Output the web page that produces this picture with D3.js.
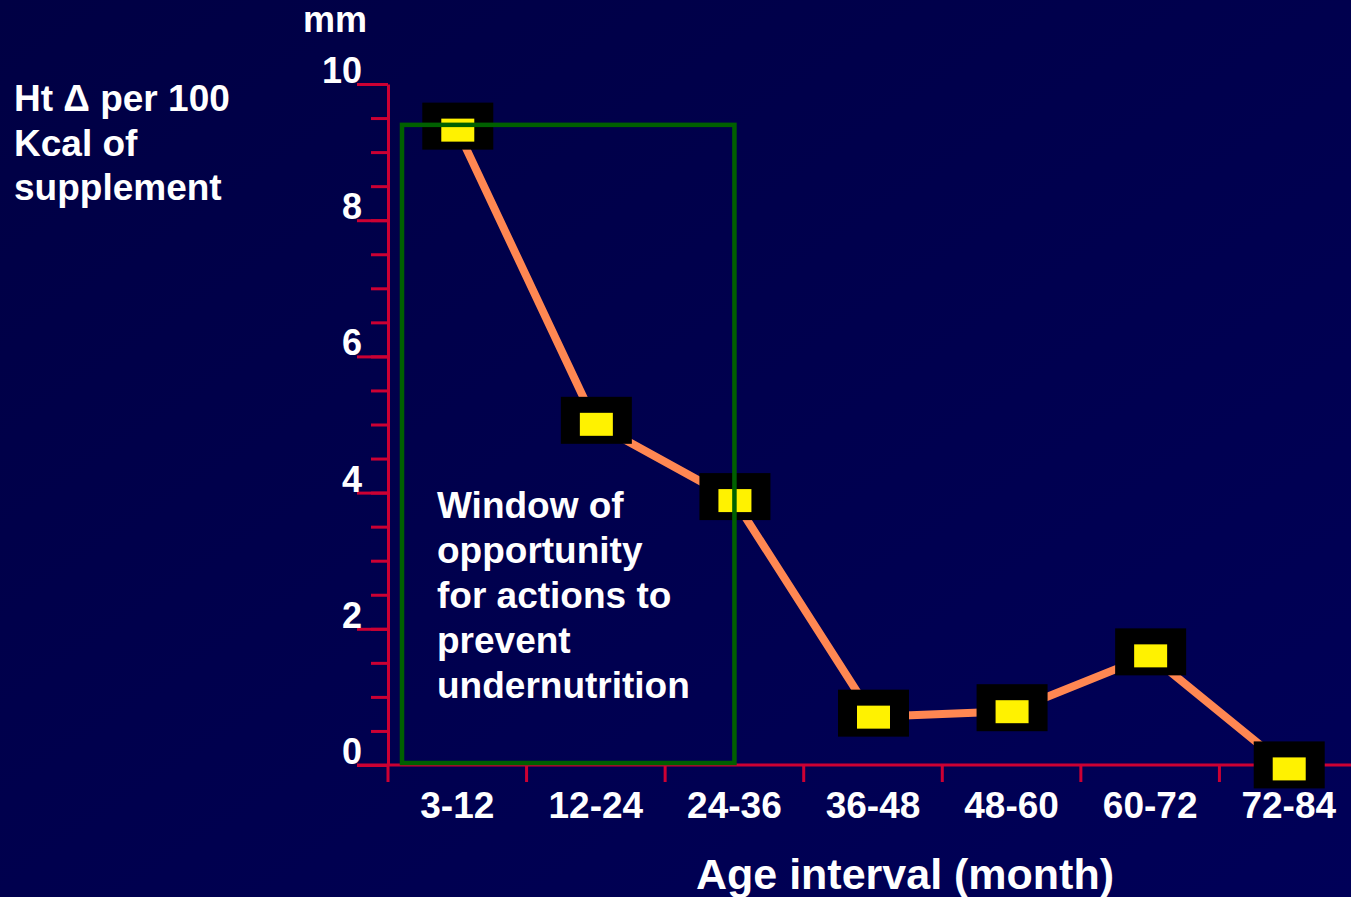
<!DOCTYPE html>
<html>
<head>
<meta charset="utf-8">
<script src="https://cdn.jsdelivr.net/npm/d3@7"></script>
<style>
  html, body { margin: 0; padding: 0; background: #00004a; }
  svg { display: block; }
  text { font-family: "Liberation Sans", Arial, sans-serif; font-weight: bold; fill: #fff; }
</style>
</head>
<body>
<div id="chart"></div>
<script>
// data
var categories = ["3-12", "12-24", "24-36", "36-48", "48-60", "60-72", "72-84"];
var values = [9.33, 5.01, 3.89, 0.71, 0.79, 1.61, -0.05];
var yLabels = [0, 2, 4, 6, 8, 10];
var yMinorStep = 0.5;
var windowCats = ["3-12", "24-36"];   // range covered by the green box
var windowTop = 9.4;
var noteLines = ["Window of", "opportunity", "for actions to", "prevent", "undernutrition"];
var yTitleLines = ["Ht \u0394 per 100", "Kcal of", "supplement"];

var width = 1351;
var height = 897;
var axisRed = "#cc0033";

var svg = d3.select("#chart")
    .append("svg")
    .attr("width", width)
    .attr("height", height);

// background, slightly lighter to the bottom right
var grad = svg.append("defs").append("linearGradient")
    .attr("id", "bg").attr("x1", "0").attr("y1", "0").attr("x2", "1").attr("y2", "1");
grad.append("stop").attr("offset", "0").attr("stop-color", "#000044");
grad.append("stop").attr("offset", "1").attr("stop-color", "#000058");
svg.append("rect").attr("width", width).attr("height", height).attr("fill", "url(#bg)");

var xScale = d3.scaleBand().domain(categories).range([388, 1358]);
var yScale = d3.scaleLinear().domain([0, 10]).range([765, 84]);
var step = xScale.bandwidth();

// y axis: minor ticks
var minorTicks = d3.range(0, 10 + 1e-9, yMinorStep);
svg.append("g")
    .attr("transform", "translate(388,0)")
    .call(d3.axisLeft(yScale).tickValues(minorTicks).tickSize(17).tickSizeOuter(0).tickFormat(""))
    .call(function (g) {
        g.selectAll("path, line").attr("stroke", axisRed).attr("stroke-width", 3);
    });

// y axis: major ticks with labels
svg.append("g")
    .attr("transform", "translate(388,0)")
    .call(d3.axisLeft(yScale).tickValues(yLabels).tickSize(31).tickSizeOuter(0))
    .call(function (g) {
        g.select(".domain").remove();
        g.selectAll("line").attr("stroke", axisRed).attr("stroke-width", 3);
        g.selectAll("text")
            .attr("x", -26)
            .attr("dy", "-0.04em")
            .attr("fill", "#fff")
            .style("font-size", "36px")
            .style("font-family", '"Liberation Sans", Arial, sans-serif')
            .style("font-weight", "bold");
    });

// x axis line
svg.append("line")
    .attr("x1", 357).attr("x2", width)
    .attr("y1", yScale(0)).attr("y2", yScale(0))
    .attr("stroke", axisRed).attr("stroke-width", 3);

// x ticks at category boundaries
svg.append("g").selectAll("line")
    .data(categories)
    .enter()
    .append("line")
    .attr("x1", function (d) { return xScale(d); })
    .attr("x2", function (d) { return xScale(d); })
    .attr("y1", yScale(0))
    .attr("y2", yScale(0) + 17)
    .attr("stroke", axisRed).attr("stroke-width", 3);

// x labels
svg.append("g")
    .attr("transform", "translate(0," + yScale(0) + ")")
    .call(d3.axisBottom(xScale).tickSize(0).tickPadding(27))
    .call(function (g) {
        g.select(".domain").remove();
        g.selectAll("text")
            .attr("fill", "#fff")
            .style("font-size", "37px")
            .style("font-family", '"Liberation Sans", Arial, sans-serif')
            .style("font-weight", "bold");
    });

// line
var line = d3.line()
    .x(function (d, i) { return xScale(categories[i]) + step / 2; })
    .y(function (d) { return yScale(d); });

svg.append("path")
    .datum(values)
    .attr("d", line)
    .attr("fill", "none")
    .attr("stroke", "#ff8752")
    .attr("stroke-width", 8)
    .attr("stroke-linejoin", "round");

// markers
var marks = svg.append("g").selectAll("g")
    .data(values)
    .enter()
    .append("g")
    .attr("transform", function (d, i) {
        return "translate(" + (xScale(categories[i]) + step / 2) + "," + yScale(d) + ")";
    });
marks.append("rect")
    .attr("x", -35).attr("y", -27).attr("width", 71).attr("height", 47)
    .attr("fill", "#000");
marks.append("rect")
    .attr("x", -16).attr("y", -11).attr("width", 33).attr("height", 23)
    .attr("fill", "#fff200");

// window of opportunity box
var boxLeft = xScale(windowCats[0]) + 14;
var boxRight = xScale(windowCats[1]) + step / 2;
svg.append("rect")
    .attr("x", boxLeft)
    .attr("y", yScale(windowTop))
    .attr("width", boxRight - boxLeft)
    .attr("height", yScale(0) - 2 - yScale(windowTop))
    .attr("fill", "none")
    .attr("stroke", "#006000")
    .attr("stroke-width", 4.5);

// note text
svg.append("text")
    .attr("x", 437)
    .attr("y", 518)
    .style("font-size", "37px")
    .selectAll("tspan")
    .data(noteLines)
    .enter()
    .append("tspan")
    .attr("x", 437)
    .attr("dy", function (d, i) { return i === 0 ? 0 : 45; })
    .text(function (d) { return d; });

// y title
svg.append("text")
    .attr("x", 14)
    .attr("y", 111)
    .style("font-size", "37px")
    .selectAll("tspan")
    .data(yTitleLines)
    .enter()
    .append("tspan")
    .attr("x", 14)
    .attr("dy", function (d, i) { return i === 0 ? 0 : 44.5; })
    .text(function (d) { return d; });

// unit
svg.append("text")
    .attr("x", 303)
    .attr("y", 32)
    .style("font-size", "36px")
    .text("mm");

// x title
svg.append("text")
    .attr("x", 905)
    .attr("y", 889)
    .attr("text-anchor", "middle")
    .style("font-size", "43px")
    .text("Age interval (month)");
</script>
</body>
</html>
